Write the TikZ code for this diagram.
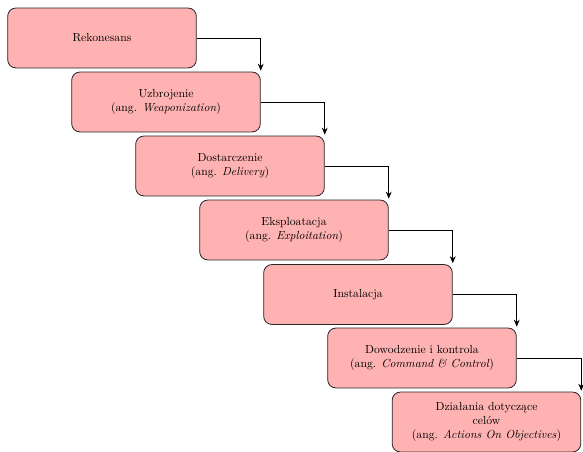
\documentclass[tikz,border=0pt]{standalone}
\usetikzlibrary{arrows.meta}
\begin{document}
\begin{tikzpicture}[x=0.855pt,y=-0.855pt,
  stagebox/.style={draw=black!85, line width=0.7pt, fill=red!30, rounded corners=7pt,
    minimum width=161.3pt, minimum height=51.2pt, align=center, inner sep=2pt},
  flow/.style={-{Stealth[length=6pt,width=5pt]}, line width=0.7pt, shorten >=0.8pt}]
\useasboundingbox (0,0) rectangle (583,452);
\node[stagebox] (s1) at (102,38) {Rekonesans};
\node[stagebox] (s2) at (166,102) {Uzbrojenie\\(ang. \textit{Weaponization})};
\node[stagebox] (s3) at (230,166) {Dostarczenie\\(ang. \textit{Delivery})};
\node[stagebox] (s4) at (294,230) {Eksploatacja\\(ang. \textit{Exploitation})};
\node[stagebox] (s5) at (358,294.5) {Instalacja};
\node[stagebox] (s6) at (422,358) {Dowodzenie i kontrola\\(ang. \textit{Command \& Control})};
\node[stagebox] (s7) at (486.5,422) {Działania dotyczące\\celów\\(ang. \textit{Actions On Objectives})};
\foreach \a/\b in {s1/s2,s2/s3,s3/s4,s4/s5,s5/s6,s6/s7}
  \draw[flow] (\a.east) -| (\b.north east);
\end{tikzpicture}
\end{document}
